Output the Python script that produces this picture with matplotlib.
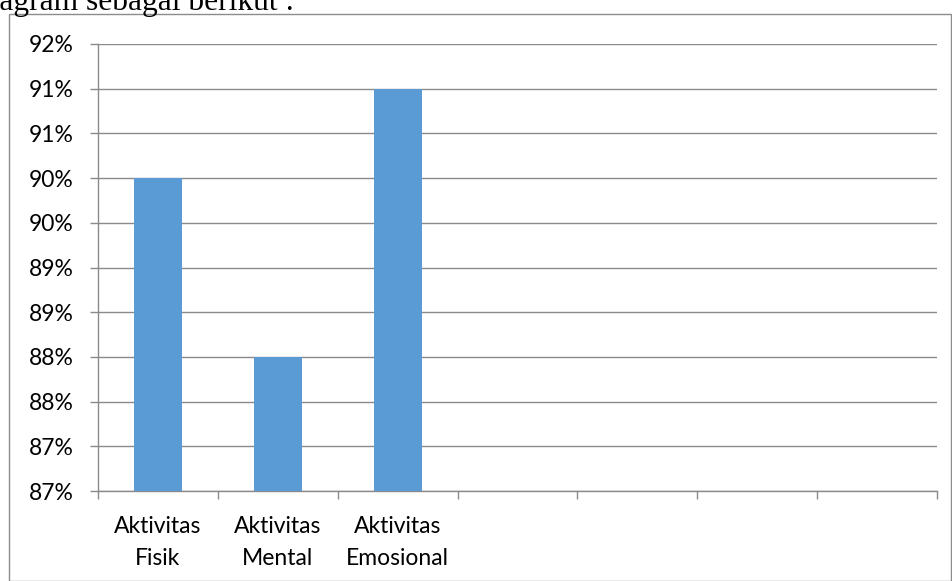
import matplotlib.pyplot as plt
from matplotlib.patches import Rectangle
from matplotlib.ticker import FixedLocator

# data
categories = ["Aktivitas\nFisik", "Aktivitas\nMental", "Aktivitas\nEmosional", "", "", "", ""]
values = [90.0, 88.0, 91.0]
y_ticks = [86.5, 87.0, 87.5, 88.0, 88.5, 89.0, 89.5, 90.0, 90.5, 91.0, 91.5]

W, H = 952, 581
fig = plt.figure(figsize=(W / 100, H / 100), dpi=100)

# chart frame of the embedded office chart
fig.patches.append(Rectangle((9 / W, 0), (951 - 9) / W, (581 - 14) / H,
                             transform=fig.transFigure, fill=False,
                             edgecolor="#8c8c8c", linewidth=1.0))

# document text cut off at the top
fig.text(-25 / W, 1 - 10 / H, "diagram sebagai berikut :", family="Liberation Serif",
         fontsize=22.7, va="baseline", ha="left", color="black")

ax = fig.add_axes([98 / W, (581 - 491) / H, (937 - 98) / W, (491 - 44) / H])

x = list(range(len(values)))
ax.bar(x, [v - y_ticks[0] for v in values], bottom=y_ticks[0], width=0.4,
       color="#5b9bd5", zorder=3)

ax.set_xlim(-0.5, len(categories) - 0.5)
ax.set_ylim(y_ticks[0], y_ticks[-1])

ax.yaxis.set_major_locator(FixedLocator(y_ticks))
# excel-style rounding of half values upward
ax.set_yticklabels([f"{int(v + 0.5)}%" for v in y_ticks])
ax.grid(axis="y", color="#8a8a8a", linewidth=1.0, zorder=0)

ax.set_xticks(list(range(len(categories))))
ax.set_xticklabels(categories, linespacing=1.65)
ax.xaxis.set_minor_locator(FixedLocator([i - 0.5 for i in range(len(categories) + 1)]))
ax.tick_params(axis="x", which="major", length=0, pad=18)
ax.tick_params(axis="x", which="minor", length=5.8, color="#8a8a8a", width=1.0)
ax.tick_params(axis="y", length=5.8, color="#8a8a8a", width=1.0, pad=12)

for lbl in ax.get_xticklabels() + ax.get_yticklabels():
    lbl.set_family("Lato")
    lbl.set_fontsize(16.5)
    lbl.set_color("black")

for side in ["top", "right"]:
    ax.spines[side].set_visible(False)
for side in ["left", "bottom"]:
    ax.spines[side].set_color("#8a8a8a")
    ax.spines[side].set_linewidth(1.0)
ax.spines["left"].set_zorder(4)

fig.savefig("out.png", dpi=100)
